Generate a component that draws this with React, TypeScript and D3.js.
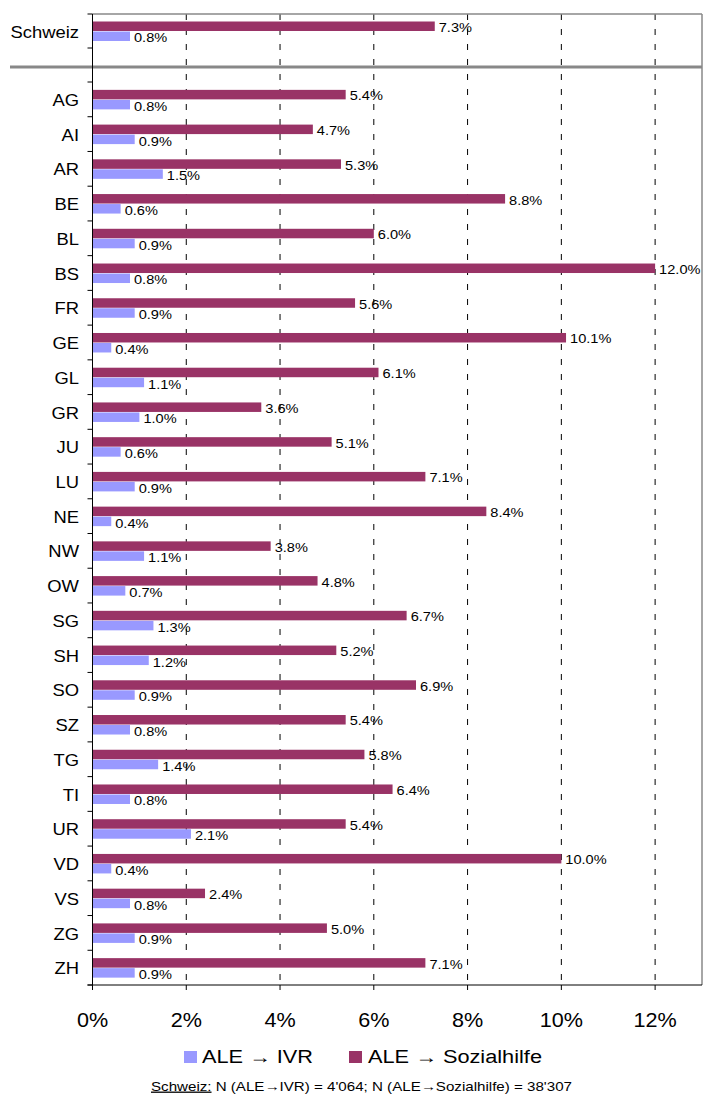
import React from "react";
import * as d3 from "d3";

// ALE -> IVR / ALE -> Sozialhilfe, Anteile in %
const swissLabel = "Schweiz";
const swissIvr = 0.8;
const swissSoz = 7.3;

const cantons = ["AG","AI","AR","BE","BL","BS","FR","GE","GL","GR","JU","LU","NE","NW","OW","SG","SH","SO","SZ","TG","TI","UR","VD","VS","ZG","ZH"];
const ivr = [0.8,0.9,1.5,0.6,0.9,0.8,0.9,0.4,1.1,1.0,0.6,0.9,0.4,1.1,0.7,1.3,1.2,0.9,0.8,1.4,0.8,2.1,0.4,0.8,0.9,0.9];
const soz = [5.4,4.7,5.3,8.8,6.0,12.0,5.6,10.1,6.1,3.6,5.1,7.1,8.4,3.8,4.8,6.7,5.2,6.9,5.4,5.8,6.4,5.4,10.0,2.4,5.0,7.1];

const xTicks = [0, 2, 4, 6, 8, 10, 12];
const legendItems = ["ALE → IVR", "ALE → Sozialhilfe"];

const IVR_COLOR = "#9999ff";
const SOZ_COLOR = "#993366";
const FONT = "'Liberation Sans', Arial, sans-serif";

// the original text is a bit wider than Arial, so stretch it horizontally
function Label({ x, y, size, anchor = "start", sx = 1.15, children }) {
    return (
        <text transform={`translate(${x},${y}) scale(${sx},1)`} dy="0.35em" fontSize={size} textAnchor={anchor} fill="#000">
            {children}
        </text>
    );
}

function App() {
    const W = 705, H = 1097;
    const x = d3.scaleLinear().domain([0, 13]).range([92.5, 702]);
    const yTop = d3.scaleBand().domain([swissLabel]).range([14, 48]);
    const yLow = d3.scaleBand().domain(cantons).range([82, 985]);
    const barH = 9.5;
    const fmt = (v) => v.toFixed(1) + "%";

    const rows = cantons.map((c, i) => ({ c, ivr: ivr[i], soz: soz[i] }));

    const drawRow = (key, cy, vIvr, vSoz) => (
        <g key={key}>
            <rect x={x(0)} y={cy - barH} width={x(vSoz) - x(0)} height={barH} fill={SOZ_COLOR} />
            <rect x={x(0)} y={cy + 0.5} width={x(vIvr) - x(0)} height={barH} fill={IVR_COLOR} />
            <Label x={x(vSoz) + 4} y={cy - barH / 2 + 1} size={13.5} sx={1.08}>{fmt(vSoz)}</Label>
            <Label x={x(vIvr) + 4} y={cy + barH / 2 + 2} size={13.5} sx={1.08}>{fmt(vIvr)}</Label>
            <Label x={79} y={cy + 1} size={16} anchor="end">{key}</Label>
        </g>
    );

    const yTicks = [14, 48].concat(cantons.map((c) => yLow(c))).concat([985]);

    return (
        <svg width={W} height={H} style={{ position: "absolute", left: 0, top: 0 }} fontFamily={FONT}>
            <rect width={W} height={H} fill="#fff" />
            {/* grid */}
            {xTicks.filter((t) => t > 0).map((t) => (
                <line key={"g" + t} x1={x(t)} x2={x(t)} y1={14} y2={985} stroke="#000" strokeDasharray="6,9" strokeWidth={1} />
            ))}
            {/* frame */}
            <line x1={x(0)} x2={702} y1={14} y2={14} stroke="#888" strokeWidth={1.5} />
            <line x1={702} x2={702} y1={14} y2={985} stroke="#888" strokeWidth={1.5} />
            <line x1={10} x2={702} y1={67} y2={67} stroke="#888" strokeWidth={3} />
            {/* bars */}
            {drawRow(swissLabel, yTop(swissLabel) + yTop.bandwidth() / 2, swissIvr, swissSoz)}
            {rows.map((r) => drawRow(r.c, yLow(r.c) + yLow.bandwidth() / 2, r.ivr, r.soz))}
            {/* axes */}
            <line x1={x(0)} x2={x(0)} y1={14} y2={985} stroke="#000" strokeWidth={1} />
            <line x1={x(0) - 5} x2={702} y1={985} y2={985} stroke="#000" strokeWidth={1} />
            {yTicks.map((t, i) => (
                <line key={"yt" + i} x1={x(0) - 5} x2={x(0)} y1={t} y2={t} stroke="#000" />
            ))}
            {xTicks.map((t) => (
                <g key={"xt" + t}>
                    <line x1={x(t)} x2={x(t)} y1={985} y2={990} stroke="#000" />
                    <Label x={x(t)} y={1020} size={20} anchor="middle" sx={1.08}>{t + "%"}</Label>
                </g>
            ))}
            {/* legend */}
            <rect x={184} y={1051} width={13} height={12} fill={IVR_COLOR} />
            <text x={202} y={1057} dy="0.35em" fontSize={18} textLength={111} lengthAdjust="spacingAndGlyphs" fill="#000">{legendItems[0]}</text>
            <rect x={349} y={1051} width={13} height={12} fill={SOZ_COLOR} />
            <text x={368} y={1057} dy="0.35em" fontSize={18} textLength={174} lengthAdjust="spacingAndGlyphs" fill="#000">{legendItems[1]}</text>
            {/* footnote */}
            <text x={151} y={1086} dy="0.35em" fontSize={13} textLength={421} lengthAdjust="spacingAndGlyphs" fill="#000">
                <tspan textDecoration="underline">Schweiz:</tspan>
                <tspan>{" N (ALE→IVR) = 4'064; N (ALE→Sozialhilfe) = 38'307"}</tspan>
            </text>
        </svg>
    );
}

export default App;
